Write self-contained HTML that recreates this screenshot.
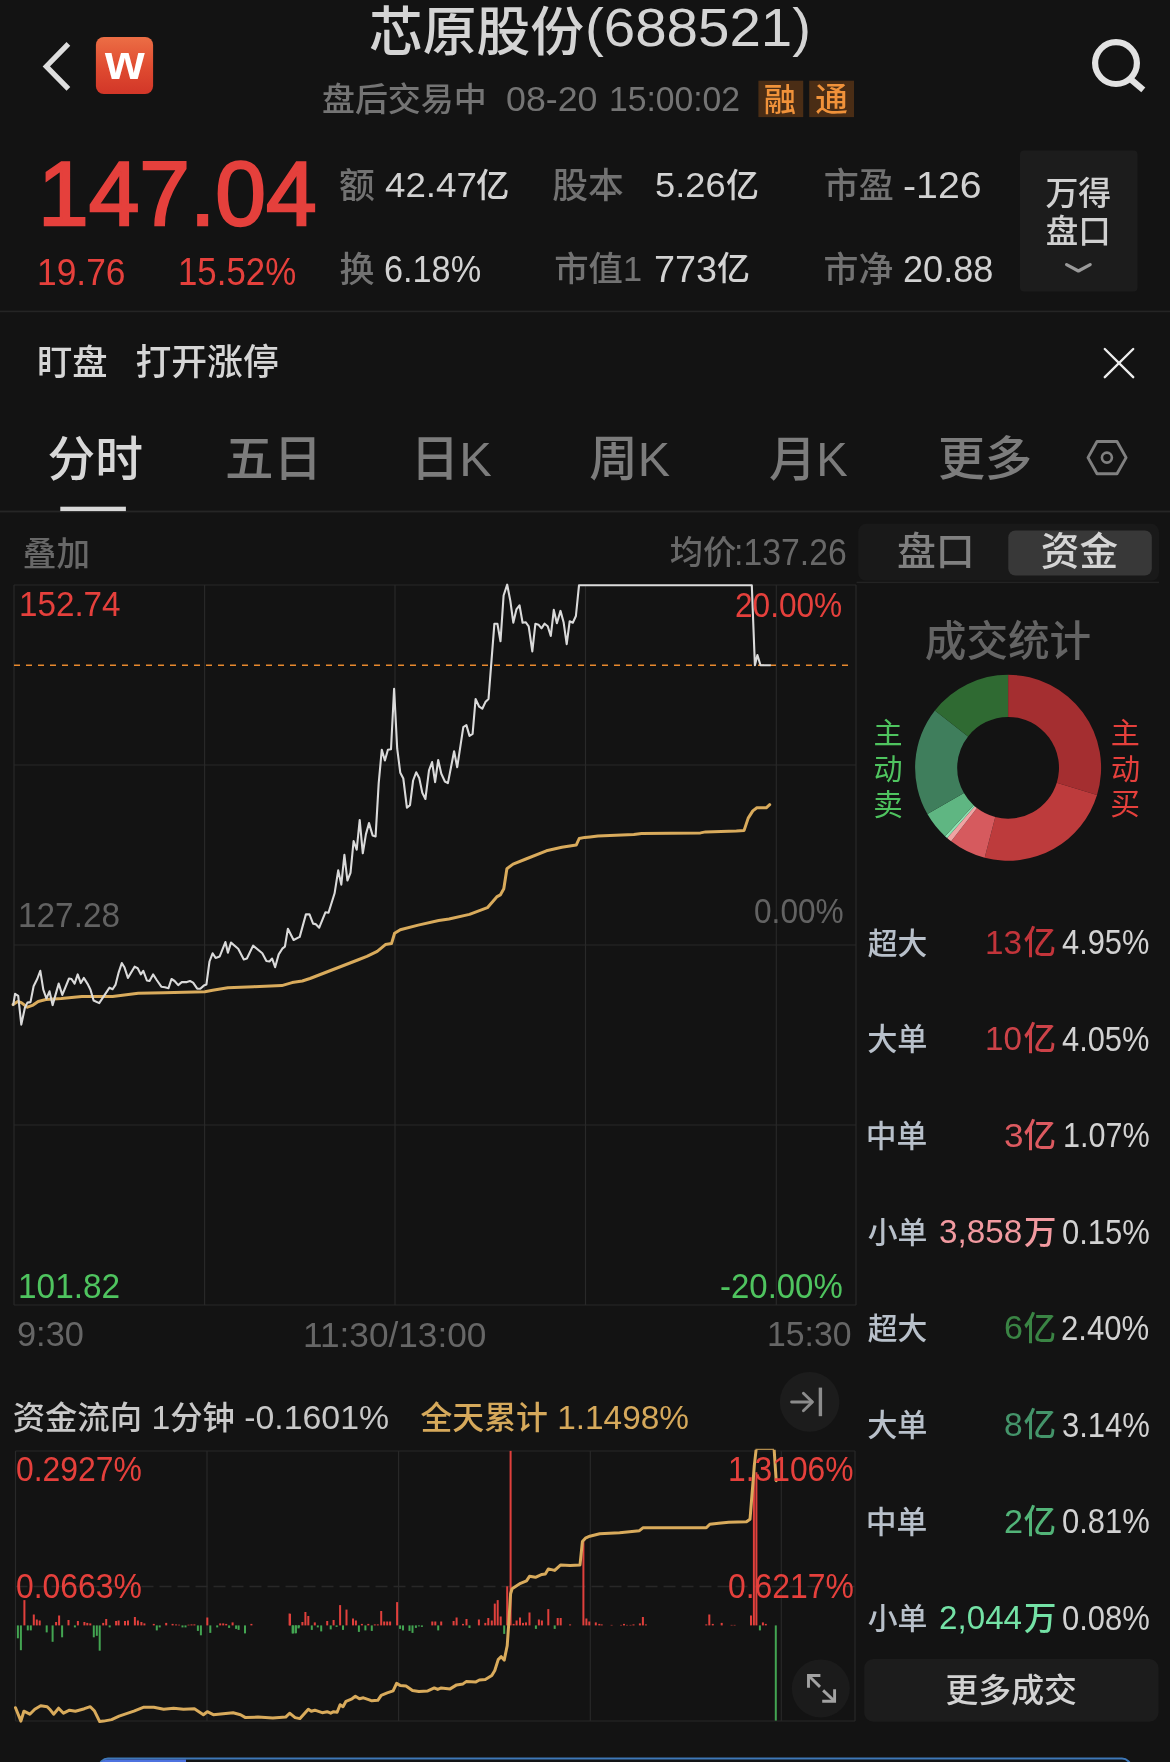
<!DOCTYPE html>
<html lang="zh-CN">
<head>
<meta charset="utf-8">
<meta name="viewport" content="width=1170">
<title>芯原股份(688521)</title>
<style>
html,body{margin:0;padding:0;background:#131313;}
body{width:1170px;height:1762px;overflow:hidden;position:relative;font-family:"Liberation Sans","Noto Sans CJK SC",sans-serif;color:#d2d2d2;}
#app{position:absolute;left:0;top:0;width:1170px;height:1762px;overflow:hidden;background:#131313;will-change:transform;}
.t{position:absolute;white-space:nowrap;line-height:1;transform-origin:0 0;margin:0;padding:0;font-weight:500;}
.c{font-size:.955em;}
svg{position:absolute;left:0;top:0;overflow:visible;}
</style>
</head>
<body>
<div id="app">

<!-- header icons -->
<svg width="1170" height="1762" viewBox="0 0 1170 1762">
  <defs>
    <linearGradient id="wg" x1="0" y1="0" x2="0" y2="1"><stop offset="0" stop-color="#ec6e45"/><stop offset="0.55" stop-color="#df4a30"/><stop offset="1" stop-color="#d23628"/></linearGradient>
  </defs>
  <polyline points="68.4,43.9 46.3,66.4 68.4,88.9" fill="none" stroke="#dedede" stroke-width="5.2" stroke-linecap="butt" stroke-linejoin="miter"/>
  <rect x="95.9" y="36.9" width="57.2" height="57.2" rx="8" fill="url(#wg)"/>
  <circle cx="1116" cy="63.1" r="20.9" fill="none" stroke="#e2e2e2" stroke-width="6.2"/>
  <line x1="1131" y1="79.5" x2="1143.3" y2="89.8" stroke="#e2e2e2" stroke-width="6.2" stroke-linecap="butt"/>
  <!-- badges -->
  <rect x="758.4" y="80.7" width="44.8" height="36.4" fill="#4a2d15"/>
  <rect x="809.2" y="80.7" width="44.8" height="36.4" fill="#4a2d15"/>
  <!-- wande button -->
  <rect x="1020" y="150.4" width="117.5" height="141" rx="4" fill="#1c1c1c"/>
  <polyline points="1066.6,264.6 1078.4,271 1090.2,264.6" fill="none" stroke="#9a9a9a" stroke-width="3.2" stroke-linecap="round" stroke-linejoin="round"/>
  <!-- separators -->
  <rect x="0" y="310.6" width="1170" height="1.6" fill="#252525"/>
  <rect x="0" y="510.6" width="1170" height="1.8" fill="#262626"/>
  <!-- close X -->
  <line x1="1104.8" y1="349" x2="1133.2" y2="377.2" stroke="#ececec" stroke-width="2.4" stroke-linecap="round"/>
  <line x1="1133.2" y1="349" x2="1104.8" y2="377.2" stroke="#ececec" stroke-width="2.4" stroke-linecap="round"/>
  <!-- tab underline -->
  <rect x="60.3" y="506.7" width="65.6" height="4.4" fill="#d8d8d8"/>
  <!-- settings hex -->
  <polygon points="1088,457.6 1097,441.5 1117,441.5 1126.1,457.6 1117,473.7 1097,473.7" fill="none" stroke="#808080" stroke-width="2.9" stroke-linejoin="round"/>
  <circle cx="1106.9" cy="457.6" r="5" fill="none" stroke="#808080" stroke-width="2.6"/>
  <!-- segmented -->
  <rect x="858.2" y="523.8" width="300.8" height="57" rx="8" fill="#191919"/>
  <rect x="1008.3" y="530.5" width="143.5" height="45" rx="7" fill="#383838"/>
  <rect x="856.6" y="581.7" width="302.4" height="1.4" fill="#232323"/>
  <!-- donut -->
  <path d="M1008.10,674.80 A93,93 0 0 1 1097.02,795.03 L1056.77,782.70 A50.9,50.9 0 0 0 1008.10,716.90 Z" fill="#a42e30"/>
<path d="M1097.02,795.03 A93,93 0 0 1 984.67,857.80 L995.27,817.06 A50.9,50.9 0 0 0 1056.77,782.70 Z" fill="#bd3b3c"/>
<path d="M984.67,857.80 A93,93 0 0 1 951.19,841.35 L976.95,808.06 A50.9,50.9 0 0 0 995.27,817.06 Z" fill="#d65a5e"/>
<path d="M951.19,841.35 A93,93 0 0 1 947.12,838.02 L974.72,806.23 A50.9,50.9 0 0 0 976.95,808.06 Z" fill="#f0a4a4"/>
<path d="M947.12,838.02 A93,93 0 0 1 945.03,836.14 L973.58,805.21 A50.9,50.9 0 0 0 974.72,806.23 Z" fill="#8ee4b4"/>
<path d="M945.03,836.14 A93,93 0 0 1 927.38,814.00 L963.92,793.08 A50.9,50.9 0 0 0 973.58,805.21 Z" fill="#5fb682"/>
<path d="M927.38,814.00 A93,93 0 0 1 934.92,710.41 L968.05,736.39 A50.9,50.9 0 0 0 963.92,793.08 Z" fill="#3f7e5c"/>
<path d="M934.92,710.41 A93,93 0 0 1 1008.10,674.80 L1008.10,716.90 A50.9,50.9 0 0 0 968.05,736.39 Z" fill="#2f6a32"/>
  <!-- more button -->
  <rect x="864.2" y="1659.1" width="294.3" height="62.6" rx="9" fill="#1c1c1c"/>
  <!-- charts -->
  <line x1="14" y1="585" x2="14" y2="1305" stroke="#292929" stroke-width="1.15"/>
<line x1="204.6" y1="585" x2="204.6" y2="1305" stroke="#292929" stroke-width="1.15"/>
<line x1="395" y1="585" x2="395" y2="1305" stroke="#292929" stroke-width="1.15"/>
<line x1="585.5" y1="585" x2="585.5" y2="1305" stroke="#292929" stroke-width="1.15"/>
<line x1="776.3" y1="585" x2="776.3" y2="1305" stroke="#292929" stroke-width="1.15"/>
<line x1="856" y1="585" x2="856" y2="1305" stroke="#292929" stroke-width="1.15"/>
<line x1="14" y1="585" x2="856" y2="585" stroke="#292929" stroke-width="1.15"/>
<line x1="14" y1="765" x2="856" y2="765" stroke="#292929" stroke-width="1.15"/>
<line x1="14" y1="945" x2="856" y2="945" stroke="#292929" stroke-width="1.15"/>
<line x1="14" y1="1125" x2="856" y2="1125" stroke="#292929" stroke-width="1.15"/>
<line x1="14" y1="1305" x2="856" y2="1305" stroke="#292929" stroke-width="1.15"/>
<line x1="14" y1="665.3" x2="850" y2="665.3" stroke="#e8892e" stroke-width="1.6" stroke-dasharray="6,6"/>
<polyline points="13.1,1004.6 17.7,1001.5 21.3,1002.6 27.4,1007.2 33.1,1005.1 38.2,1001.5 45.9,999.5 61.3,998.5 81.8,996.4 97.2,996.4 112.6,996.4 138.2,993.3 163.8,992.8 204.9,991.8 212.6,990.3 227.9,987.7 253.6,986.7 281.8,985.6 292.1,982.6 302.3,981 310,978.5 357.7,960 366.9,956.4 377.2,951.3 385.4,944.6 391.5,943.6 394.6,933.3 400.3,929.7 418.2,925.1 438.7,920.5 449,919 469.5,914.4 487.4,907.7 496.7,896.9 500.3,894.9 503.8,888.7 506.9,868.7 513.1,864.1 525.9,859 546.4,850.8 561.8,847.2 576.2,845.1 579.2,838.5 584.9,837.4 590,836.9 597.9,836 633.8,834.5 641.5,833.5 700.5,832.9 705.6,831.9 736.4,830.9 744.1,830.4 748.2,818.1 752.8,810.9 756.9,807.8 766.2,807.8 769.7,804.7" fill="none" stroke="#d9ab5c" stroke-width="3" stroke-linejoin="round" stroke-linecap="round"/>
<polyline points="13.1,1005.6 15.1,993.8 18.2,995.9 21.3,1024.6 24.9,1007.7 27.4,1002.6 30.5,1002.1 33.6,986.2 37.2,979 40.3,970.8 43.3,989.7 46.4,998.5 49.5,991.3 52.6,1005.1 58.7,983.6 62.3,994.9 69,978.5 71.5,979 74.6,983.6 77.7,974.4 80.8,983.1 83.8,977.9 87.4,983.6 90.5,989.7 93.6,1000.5 99.2,1003.1 109.5,987.7 112.6,989.2 115.6,984.6 118.7,972.3 121.8,963.1 124.4,967.2 127.9,977.9 134.6,966.7 137.7,968.2 140.8,974.4 143.3,970.8 146.9,980.5 149.5,981 153.1,974.4 156.7,980 161.3,986.7 164.9,987.2 168.5,988.2 171.5,979 174.6,981 178.2,985.1 181.8,982.1 186.9,982.1 190,981 193.1,982.6 197.2,988.7 200.3,988.7 203.8,985.6 206.4,984.6 209.5,961.5 212.6,953.3 215.6,957.9 219.7,956.4 225.4,942.1 227.9,952.8 231,942.6 238.2,948.7 243.8,959.5 246.9,958.5 253.1,945.6 262.3,953.3 266.4,961 269.5,961.5 272.1,958.5 275.1,967.2 278.7,954.4 282.3,948.7 284.9,946.7 287.9,928.7 293.6,940 299.7,936.9 305.9,914.4 309.5,914.4 313.1,923.6 315.6,924.1 319.2,927.7 325.4,912.3 328.5,912.8 334.6,893.3 338.2,870.3 341.3,884.6 344.4,854.9 347.4,880.5 350.5,872.8 353.6,841 356.7,849.7 359.7,820 362.8,853.3 365.9,834.4 369,823.1 372.6,835.4 375.6,836.4 378.7,783.1 381.8,749.7 384.9,760.5 387.9,749.7 391,749.2 394.1,688.7 397.2,748.7 400.3,772.8 403.3,778.5 406.9,807.7 410,805.1 413.1,780.5 416.2,772.3 419.2,777.9 422.3,792.8 425.4,799 429,770.3 432.1,762.1 435.1,782.1 438.2,760 441.3,773.8 444.9,781.5 447.9,783.1 454.1,751.3 457.2,767.2 463.3,727.2 466.4,725.1 469.5,735.9 472.6,733.8 475.6,699 479.2,706.7 482.3,708.7 485.4,702.1 488.5,699 491.3,663.2 494.4,623.7 497.4,623.7 500.5,641.2 503.6,595.5 507.2,584.7 510.3,600.6 513.3,622.7 516.4,609.4 519.5,605.3 522.6,622.7 525.6,622.2 528.7,626.3 532.3,651.4 535.4,623.7 538.5,624.7 541.5,628.3 544.6,623.7 547.7,626.3 550.8,636 553.8,609.9 556.9,623.2 560.5,610.9 563.6,622.2 566.7,644.2 569.7,621.2 572.8,622.7 575.9,616 579,585.3 751.8,585.3 754.9,665.3 757.4,655 760.5,665.3 770.8,665.3" fill="none" stroke="#dadada" stroke-width="2.1" stroke-linejoin="round"/>
  <line x1="15.5" y1="1451" x2="15.5" y2="1721" stroke="#292929" stroke-width="1.15"/>
<line x1="207" y1="1451" x2="207" y2="1721" stroke="#292929" stroke-width="1.15"/>
<line x1="398.6" y1="1451" x2="398.6" y2="1721" stroke="#292929" stroke-width="1.15"/>
<line x1="590.3" y1="1451" x2="590.3" y2="1721" stroke="#292929" stroke-width="1.15"/>
<line x1="781.3" y1="1451" x2="781.3" y2="1721" stroke="#292929" stroke-width="1.15"/>
<line x1="855" y1="1451" x2="855" y2="1721" stroke="#292929" stroke-width="1.15"/>
<line x1="15.5" y1="1451" x2="855" y2="1451" stroke="#292929" stroke-width="1.15"/>
<line x1="15.5" y1="1721" x2="855" y2="1721" stroke="#292929" stroke-width="1.15"/>
<line x1="15.5" y1="1586.5" x2="855" y2="1586.5" stroke="#282828" stroke-width="1.3" stroke-dasharray="12,6"/>
<rect x="175.1" y="1624.4" width="2" height="1.0" fill="#e0403c"/>
<rect x="178.1" y="1624.7" width="2" height="0.7" fill="#e0403c"/>
<rect x="187.5" y="1624.7" width="2" height="0.7" fill="#e0403c"/>
<rect x="190.5" y="1624.4" width="2" height="1.0" fill="#e0403c"/>
<rect x="193.4" y="1624.4" width="2" height="1.0" fill="#e0403c"/>
<rect x="23.4" y="1600.1" width="2" height="25.3" fill="#e0403c"/>
<rect x="32.8" y="1614.5" width="2" height="10.9" fill="#e0403c"/>
<rect x="35.8" y="1619.5" width="2" height="5.9" fill="#e0403c"/>
<rect x="38.7" y="1620.5" width="2" height="4.9" fill="#e0403c"/>
<rect x="55.1" y="1622.0" width="2" height="3.4" fill="#e0403c"/>
<rect x="58.1" y="1615.5" width="2" height="9.9" fill="#e0403c"/>
<rect x="67.5" y="1620.0" width="2" height="5.4" fill="#e0403c"/>
<rect x="76.9" y="1621.0" width="2" height="4.4" fill="#e0403c"/>
<rect x="83.4" y="1622.0" width="2" height="3.4" fill="#e0403c"/>
<rect x="86.3" y="1622.9" width="2" height="2.5" fill="#e0403c"/>
<rect x="89.3" y="1623.4" width="2" height="2.0" fill="#e0403c"/>
<rect x="102.2" y="1622.9" width="2" height="2.5" fill="#e0403c"/>
<rect x="105.2" y="1619.0" width="2" height="6.4" fill="#e0403c"/>
<rect x="115.1" y="1621.0" width="2" height="4.4" fill="#e0403c"/>
<rect x="117.6" y="1620.5" width="2" height="4.9" fill="#e0403c"/>
<rect x="124.0" y="1621.0" width="2" height="4.4" fill="#e0403c"/>
<rect x="127.0" y="1620.5" width="2" height="4.9" fill="#e0403c"/>
<rect x="133.9" y="1617.0" width="2" height="8.4" fill="#e0403c"/>
<rect x="136.9" y="1620.5" width="2" height="4.9" fill="#e0403c"/>
<rect x="140.4" y="1622.0" width="2" height="3.4" fill="#e0403c"/>
<rect x="143.4" y="1623.4" width="2" height="2.0" fill="#e0403c"/>
<rect x="152.8" y="1623.9" width="2" height="1.5" fill="#e0403c"/>
<rect x="165.2" y="1622.9" width="2" height="2.5" fill="#e0403c"/>
<rect x="171.6" y="1623.9" width="2" height="1.5" fill="#e0403c"/>
<rect x="206.3" y="1617.5" width="2" height="7.9" fill="#e0403c"/>
<rect x="219.2" y="1623.4" width="2" height="2.0" fill="#e0403c"/>
<rect x="222.2" y="1623.4" width="2" height="2.0" fill="#e0403c"/>
<rect x="225.2" y="1623.9" width="2" height="1.5" fill="#e0403c"/>
<rect x="231.6" y="1622.4" width="2" height="3.0" fill="#e0403c"/>
<rect x="250.4" y="1623.9" width="2" height="1.5" fill="#e0403c"/>
<rect x="288.6" y="1613.5" width="2" height="11.9" fill="#e0403c"/>
<rect x="289.0" y="1614.0" width="2" height="11.4" fill="#e0403c"/>
<rect x="301.4" y="1622.0" width="2" height="3.4" fill="#e0403c"/>
<rect x="304.4" y="1612.0" width="2" height="13.4" fill="#e0403c"/>
<rect x="307.3" y="1616.0" width="2" height="9.4" fill="#e0403c"/>
<rect x="313.8" y="1622.4" width="2" height="3.0" fill="#e0403c"/>
<rect x="326.2" y="1621.0" width="2" height="4.4" fill="#e0403c"/>
<rect x="332.6" y="1620.0" width="2" height="5.4" fill="#e0403c"/>
<rect x="339.1" y="1605.1" width="2" height="20.3" fill="#e0403c"/>
<rect x="345.5" y="1609.6" width="2" height="15.8" fill="#e0403c"/>
<rect x="352.0" y="1618.5" width="2" height="6.9" fill="#e0403c"/>
<rect x="354.9" y="1620.5" width="2" height="4.9" fill="#e0403c"/>
<rect x="360.9" y="1623.9" width="2" height="1.5" fill="#e0403c"/>
<rect x="367.3" y="1623.9" width="2" height="1.5" fill="#e0403c"/>
<rect x="373.8" y="1624.4" width="2" height="1.0" fill="#e0403c"/>
<rect x="376.8" y="1624.4" width="2" height="1.0" fill="#e0403c"/>
<rect x="380.2" y="1611.0" width="2" height="14.4" fill="#e0403c"/>
<rect x="383.2" y="1621.5" width="2" height="3.9" fill="#e0403c"/>
<rect x="386.2" y="1621.5" width="2" height="3.9" fill="#e0403c"/>
<rect x="389.1" y="1621.5" width="2" height="3.9" fill="#e0403c"/>
<rect x="396.1" y="1602.1" width="2" height="23.3" fill="#e0403c"/>
<rect x="431.3" y="1621.5" width="2" height="3.9" fill="#e0403c"/>
<rect x="434.3" y="1621.5" width="2" height="3.9" fill="#e0403c"/>
<rect x="440.2" y="1621.5" width="2" height="3.9" fill="#e0403c"/>
<rect x="452.6" y="1621.0" width="2" height="4.4" fill="#e0403c"/>
<rect x="455.6" y="1617.5" width="2" height="7.9" fill="#e0403c"/>
<rect x="462.0" y="1623.9" width="2" height="1.5" fill="#e0403c"/>
<rect x="465.5" y="1619.0" width="2" height="6.4" fill="#e0403c"/>
<rect x="477.9" y="1619.5" width="2" height="5.9" fill="#e0403c"/>
<rect x="484.3" y="1622.9" width="2" height="2.5" fill="#e0403c"/>
<rect x="487.3" y="1618.0" width="2" height="7.4" fill="#e0403c"/>
<rect x="490.8" y="1620.5" width="2" height="4.9" fill="#e0403c"/>
<rect x="493.8" y="1603.6" width="2" height="21.8" fill="#e0403c"/>
<rect x="496.7" y="1600.1" width="2" height="25.3" fill="#e0403c"/>
<rect x="499.7" y="1616.5" width="2" height="8.9" fill="#e0403c"/>
<rect x="506.2" y="1586.3" width="2" height="39.1" fill="#e0403c"/>
<rect x="509.6" y="1450.9" width="2" height="174.5" fill="#e0403c"/>
<rect x="512.6" y="1623.9" width="2" height="1.5" fill="#e0403c"/>
<rect x="515.6" y="1620.5" width="2" height="4.9" fill="#e0403c"/>
<rect x="519.0" y="1617.5" width="2" height="7.9" fill="#e0403c"/>
<rect x="522.0" y="1622.9" width="2" height="2.5" fill="#e0403c"/>
<rect x="525.0" y="1622.4" width="2" height="3.0" fill="#e0403c"/>
<rect x="528.5" y="1612.5" width="2" height="12.9" fill="#e0403c"/>
<rect x="537.9" y="1619.5" width="2" height="5.9" fill="#e0403c"/>
<rect x="540.9" y="1620.5" width="2" height="4.9" fill="#e0403c"/>
<rect x="547.3" y="1609.1" width="2" height="16.3" fill="#e0403c"/>
<rect x="556.7" y="1618.0" width="2" height="7.4" fill="#e0403c"/>
<rect x="559.7" y="1618.0" width="2" height="7.4" fill="#e0403c"/>
<rect x="569.1" y="1624.4" width="2" height="1.0" fill="#e0403c"/>
<rect x="582.4" y="1541.6" width="2" height="83.8" fill="#e0403c"/>
<rect x="585.4" y="1618.5" width="2" height="6.9" fill="#e0403c"/>
<rect x="588.3" y="1621.5" width="2" height="3.9" fill="#e0403c"/>
<rect x="594.8" y="1622.4" width="2" height="3.0" fill="#e0403c"/>
<rect x="598.3" y="1623.9" width="2" height="1.5" fill="#e0403c"/>
<rect x="600.7" y="1624.4" width="2" height="1.0" fill="#e0403c"/>
<rect x="610.6" y="1624.9" width="2" height="0.5" fill="#e0403c"/>
<rect x="620.1" y="1624.9" width="2" height="0.5" fill="#e0403c"/>
<rect x="623.0" y="1623.9" width="2" height="1.5" fill="#e0403c"/>
<rect x="626.0" y="1624.9" width="2" height="0.5" fill="#e0403c"/>
<rect x="629.5" y="1624.9" width="2" height="0.5" fill="#e0403c"/>
<rect x="632.5" y="1624.4" width="2" height="1.0" fill="#e0403c"/>
<rect x="638.9" y="1623.4" width="2" height="2.0" fill="#e0403c"/>
<rect x="641.9" y="1617.0" width="2" height="8.4" fill="#e0403c"/>
<rect x="644.9" y="1624.4" width="2" height="1.0" fill="#e0403c"/>
<rect x="705.3" y="1624.4" width="2" height="1.0" fill="#e0403c"/>
<rect x="708.3" y="1614.5" width="2" height="10.9" fill="#e0403c"/>
<rect x="711.8" y="1623.9" width="2" height="1.5" fill="#e0403c"/>
<rect x="720.7" y="1622.9" width="2" height="2.5" fill="#e0403c"/>
<rect x="730.6" y="1624.9" width="2" height="0.5" fill="#e0403c"/>
<rect x="733.6" y="1624.9" width="2" height="0.5" fill="#e0403c"/>
<rect x="750.0" y="1615.5" width="2" height="9.9" fill="#e0403c"/>
<rect x="752.9" y="1464.8" width="2" height="160.6" fill="#e0403c"/>
<rect x="755.4" y="1472.2" width="2" height="153.2" fill="#e0403c"/>
<rect x="761.9" y="1622.4" width="2" height="3.0" fill="#e0403c"/>
<rect x="764.8" y="1623.9" width="2" height="1.5" fill="#e0403c"/>
<rect x="16.9" y="1625.4" width="2" height="12.9" fill="#43a552"/>
<rect x="19.9" y="1625.4" width="2" height="24.8" fill="#43a552"/>
<rect x="26.8" y="1625.4" width="2" height="5.0" fill="#43a552"/>
<rect x="29.8" y="1625.4" width="2" height="5.0" fill="#43a552"/>
<rect x="45.7" y="1625.4" width="2" height="7.0" fill="#43a552"/>
<rect x="51.6" y="1625.4" width="2" height="16.4" fill="#43a552"/>
<rect x="61.1" y="1625.4" width="2" height="11.9" fill="#43a552"/>
<rect x="73.9" y="1625.4" width="2" height="2.0" fill="#43a552"/>
<rect x="92.8" y="1625.4" width="2" height="11.9" fill="#43a552"/>
<rect x="95.8" y="1625.4" width="2" height="10.4" fill="#43a552"/>
<rect x="98.7" y="1625.4" width="2" height="25.3" fill="#43a552"/>
<rect x="108.7" y="1625.4" width="2" height="2.0" fill="#43a552"/>
<rect x="155.8" y="1625.4" width="2" height="5.0" fill="#43a552"/>
<rect x="158.7" y="1625.4" width="2" height="2.0" fill="#43a552"/>
<rect x="181.5" y="1625.4" width="2" height="2.0" fill="#43a552"/>
<rect x="184.5" y="1625.4" width="2" height="2.0" fill="#43a552"/>
<rect x="196.9" y="1625.4" width="2" height="5.5" fill="#43a552"/>
<rect x="199.9" y="1625.4" width="2" height="9.9" fill="#43a552"/>
<rect x="209.3" y="1625.4" width="2" height="7.5" fill="#43a552"/>
<rect x="216.2" y="1625.4" width="2" height="2.0" fill="#43a552"/>
<rect x="228.1" y="1625.4" width="2" height="2.5" fill="#43a552"/>
<rect x="235.1" y="1625.4" width="2" height="3.5" fill="#43a552"/>
<rect x="237.6" y="1625.4" width="2" height="4.5" fill="#43a552"/>
<rect x="244.0" y="1625.4" width="2" height="8.0" fill="#43a552"/>
<rect x="291.6" y="1625.4" width="2" height="8.0" fill="#43a552"/>
<rect x="294.6" y="1625.4" width="2" height="8.0" fill="#43a552"/>
<rect x="297.5" y="1625.4" width="2" height="3.0" fill="#43a552"/>
<rect x="292.0" y="1625.4" width="2" height="8.0" fill="#43a552"/>
<rect x="294.9" y="1625.4" width="2" height="7.5" fill="#43a552"/>
<rect x="297.9" y="1625.4" width="2" height="2.0" fill="#43a552"/>
<rect x="310.8" y="1625.4" width="2" height="4.5" fill="#43a552"/>
<rect x="316.8" y="1625.4" width="2" height="2.0" fill="#43a552"/>
<rect x="320.2" y="1625.4" width="2" height="6.0" fill="#43a552"/>
<rect x="329.7" y="1625.4" width="2" height="4.0" fill="#43a552"/>
<rect x="335.6" y="1625.4" width="2" height="1.5" fill="#43a552"/>
<rect x="342.0" y="1625.4" width="2" height="4.5" fill="#43a552"/>
<rect x="357.9" y="1625.4" width="2" height="6.5" fill="#43a552"/>
<rect x="364.4" y="1625.4" width="2" height="5.0" fill="#43a552"/>
<rect x="370.8" y="1625.4" width="2" height="5.5" fill="#43a552"/>
<rect x="399.1" y="1625.4" width="2" height="3.5" fill="#43a552"/>
<rect x="402.0" y="1625.4" width="2" height="5.0" fill="#43a552"/>
<rect x="408.5" y="1625.4" width="2" height="5.5" fill="#43a552"/>
<rect x="411.5" y="1625.4" width="2" height="7.5" fill="#43a552"/>
<rect x="414.9" y="1625.4" width="2" height="2.5" fill="#43a552"/>
<rect x="417.9" y="1625.4" width="2" height="1.0" fill="#43a552"/>
<rect x="420.9" y="1625.4" width="2" height="1.5" fill="#43a552"/>
<rect x="437.2" y="1625.4" width="2" height="5.0" fill="#43a552"/>
<rect x="468.5" y="1625.4" width="2" height="2.5" fill="#43a552"/>
<rect x="503.2" y="1625.4" width="2" height="8.5" fill="#43a552"/>
<rect x="534.9" y="1625.4" width="2" height="3.5" fill="#43a552"/>
<rect x="553.7" y="1625.4" width="2" height="3.5" fill="#43a552"/>
<rect x="758.9" y="1625.4" width="2" height="5.0" fill="#43a552"/>
<rect x="774.8" y="1625.4" width="2" height="95.2" fill="#43a552"/>
<clipPath id="fc"><rect x="0" y="1449.8" width="1170" height="300"/></clipPath>
<polyline clip-path="url(#fc)" points="15.5,1707.7 20.9,1721.1 23.9,1711.2 29.8,1714.2 34.8,1709.2 40.7,1705.7 47.2,1706.7 49.7,1709.2 53.6,1714.2 58.6,1708.2 63.5,1713.2 69.5,1710.2 75.4,1711.2 84.4,1708.7 90.3,1706.7 94.3,1710.7 99.7,1721.6 103.7,1721.1 111.6,1719.6 119.1,1716.2 126.5,1713.7 133.9,1711.2 143.9,1707.2 153.8,1707.2 163.7,1709.2 173.6,1708.2 183.5,1709.2 194.4,1708.7 203.4,1714.7 207.3,1711.7 213.3,1714.7 223.2,1713.7 233.1,1712.7 240.5,1714.7 245.5,1717.6 257.9,1717.1 272.8,1718.1 285.7,1717.1 289.6,1713.2 295.1,1717.6 300,1718.6 308.3,1709.2 311.3,1711.2 314.8,1710.2 322.2,1712.7 327.2,1711.7 330.7,1713.2 333.6,1711.7 337.1,1712.2 340.1,1704.7 343,1706.7 346,1701.3 352,1698.8 355.4,1696.3 359.4,1698.8 363.4,1697.8 369.3,1699.8 371.8,1700.8 377.8,1700.3 381.2,1695.3 387.2,1692.9 393.1,1690.9 396.6,1683.4 400.1,1685.4 406,1685.9 412.5,1690.4 418.9,1691.4 427.8,1690.9 434.3,1687.9 437.7,1689.4 441.2,1687.9 450.1,1688.9 456.6,1684.9 463,1683.9 466.5,1681.4 475.9,1681.9 479.4,1680 485.3,1679.5 491.8,1675.5 494.8,1670.5 498.2,1659.6 501.2,1656.7 504.2,1660.1 507.2,1645.8 508.6,1625.9 510.6,1593.7 512.1,1588.7 520.5,1583.3 526.5,1580.8 529.5,1576.3 535.4,1577.3 541.9,1574.4 545.3,1573.9 548.3,1568.9 554.7,1570.4 560.7,1564.9 570.1,1565.4 580,1564.9 582.4,1541.6 585.4,1538.2 589.8,1536.2 599.7,1533.7 619.6,1532.7 639.4,1530.7 642.9,1527.8 654.3,1527.8 706.3,1527.8 709.8,1524.3 718.7,1523.3 728.7,1522.3 746.5,1521.8 750,1519.3 752.4,1489.6 754.4,1464.8 756.2,1448.9 758.9,1447.4 774,1447.4 776.2,1480.7" fill="none" stroke="#d9ab5c" stroke-width="3" stroke-linejoin="round" stroke-linecap="round"/>
<polyline points="755.5,1449.3 774,1449.3" fill="none" stroke="#d9ab5c" stroke-width="1"/>
  <!-- round buttons -->
  <circle cx="809.6" cy="1401.9" r="29.8" fill="#1c1c1c"/>
  <g fill="none" stroke="#8c8c8c" stroke-linecap="round" stroke-linejoin="round">
    <line x1="791.6" y1="1402" x2="812" y2="1402" stroke-width="2.9"/>
    <polyline points="803.4,1393.3 812.4,1402 803.4,1410.7" stroke-width="2.9"/>
    <line x1="820.4" y1="1387.6" x2="820.4" y2="1416.2" stroke-width="3.4" stroke-linecap="butt"/>
  </g>
  <circle cx="820.8" cy="1688.4" r="29" fill="#1b1b1b"/>
  <g fill="none" stroke="#a2a2a2" stroke-width="2.9" stroke-linecap="butt" stroke-linejoin="miter">
    <polyline points="808.5,1687.7 808.5,1675.5 820.4,1675.5"/>
    <line x1="809" y1="1676" x2="820" y2="1686.9"/>
    <polyline points="834.6,1689.2 834.6,1701.3 822.2,1701.3"/>
    <line x1="834.1" y1="1700.8" x2="823.1" y2="1690.4"/>
  </g>
  <!-- bottom bar -->
  <rect x="99" y="1758.6" width="1032" height="20" rx="9" fill="#121416" stroke="#3e78b8" stroke-width="2"/>
  <path d="M100,1763 L100,1767 Q100,1759.4 108,1759.4 L186,1759.4 L186,1763 Z" fill="#4d72e0"/>
</svg>

<div class="t" id="title1" style="left:368.97px;top:5.61px;font-size:53.77px;color:#d4d4d4;font-weight:500;">芯原股份</div>
<div class="t" id="title2" style="left:585.16px;top:0.76px;font-size:53.03px;color:#d4d4d4;transform:scaleX(1.0652);">(688521)</div>
<div class="t" id="sub1" style="left:321.99px;top:84.39px;font-size:32.94px;color:#747474;">盘后交易中</div>
<div class="t" id="sub2" style="left:505.70px;top:81.76px;font-size:34.91px;color:#747474;transform:scaleX(1.0247);">08-20</div>
<div class="t" id="sub3" style="left:608.92px;top:81.76px;font-size:34.91px;color:#747474;transform:scaleX(0.9645);">15:00:02</div>
<div class="t" id="bd1" style="left:763.66px;top:84.17px;font-size:32.25px;color:#f0923a;">融</div>
<div class="t" id="bd2" style="left:815.33px;top:83.85px;font-size:32.52px;color:#f0923a;">通</div>
<div class="t" id="wlogo" style="left:104.59px;top:39.25px;font-size:47.88px;color:#ffffff;font-weight:700;transform:scaleX(1.0643);">w</div>
<div class="t" id="price" style="left:38.11px;top:148.97px;font-size:90.42px;color:#e5403c;-webkit-text-stroke:2.3px #e5403c;transform:scaleX(1.0079);">147.04</div>
<div class="t" id="chg" style="left:36.86px;top:253.74px;font-size:37.47px;color:#e5403c;transform:scaleX(0.9432);">19.76</div>
<div class="t" id="pct" style="left:177.57px;top:253.77px;font-size:37.88px;color:#e5403c;transform:scaleX(0.9198);">15.52%</div>
<div class="t" id="s1l" style="left:338.93px;top:168.51px;font-size:35.75px;color:#727272;">额</div>
<div class="t" id="s1v" style="left:384.82px;top:167.96px;font-size:35.72px;color:#d2d2d2;transform:scaleX(1.0279);">42.47</div>
<div class="t" id="s1u" style="left:476.11px;top:168.50px;font-size:33.41px;color:#d2d2d2;">亿</div>
<div class="t" id="s2l" style="left:552.18px;top:168.85px;font-size:35.76px;color:#727272;">股本</div>
<div class="t" id="s2v" style="left:654.98px;top:167.96px;font-size:35.72px;color:#d2d2d2;transform:scaleX(1.0157);">5.26</div>
<div class="t" id="s2u" style="left:726.02px;top:168.97px;font-size:33.01px;color:#d2d2d2;">亿</div>
<div class="t" id="s3l" style="left:823.70px;top:167.76px;font-size:35.12px;color:#727272;">市盈</div>
<div class="t" id="s3v" style="left:903.25px;top:168.20px;font-size:36.00px;color:#d2d2d2;transform:scaleX(1.0897);">-126</div>
<div class="t" id="s4l" style="left:339.40px;top:253.45px;font-size:34.97px;color:#727272;">换</div>
<div class="t" id="s4v" style="left:383.81px;top:251.50px;font-size:36.09px;color:#d2d2d2;transform:scaleX(0.9492);">6.18%</div>
<div class="t" id="s5l" style="left:554.23px;top:252.36px;font-size:34.38px;color:#727272;">市值1</div>
<div class="t" id="s5v" style="left:653.54px;top:251.63px;font-size:36.45px;color:#d2d2d2;transform:scaleX(1.0371);">773</div>
<div class="t" id="s5u" style="left:717.02px;top:251.90px;font-size:33.01px;color:#d2d2d2;">亿</div>
<div class="t" id="s6l" style="left:823.54px;top:253.37px;font-size:34.87px;color:#727272;">市净</div>
<div class="t" id="s6v" style="left:903.03px;top:252.22px;font-size:36.00px;color:#d2d2d2;transform:scaleX(1.0037);">20.88</div>
<div class="t" id="b1" style="left:1045.41px;top:178.18px;font-size:32.95px;color:#d0d0d0;">万得</div>
<div class="t" id="b2" style="left:1045.83px;top:215.77px;font-size:32.55px;color:#d0d0d0;">盘口</div>
<div class="t" id="w1" style="left:36.89px;top:345.07px;font-size:35.32px;color:#d6d6d6;">盯盘</div>
<div class="t" id="w2" style="left:135.44px;top:346.02px;font-size:35.85px;color:#d6d6d6;">打开涨停</div>
<div class="t" id="tb1" style="left:47.53px;top:435.89px;font-size:47.74px;color:#d8d8d8;font-weight:500;">分时</div>
<div class="t" id="tb2" style="left:224.96px;top:434.77px;font-size:48.54px;color:#7c7c7c;">五日</div>
<div class="t" id="tb3" style="left:410.45px;top:434.89px;font-size:48.73px;color:#7c7c7c;">日K</div>
<div class="t" id="tb4" style="left:589.21px;top:434.74px;font-size:48.44px;color:#7c7c7c;">周K</div>
<div class="t" id="tb5" style="left:769.03px;top:435.79px;font-size:47.20px;color:#7c7c7c;">月K</div>
<div class="t" id="tb6" style="left:938.00px;top:434.79px;font-size:47.06px;color:#7c7c7c;">更多</div>
<div class="t" id="ov" style="left:22.86px;top:537.93px;font-size:33.62px;color:#686868;">叠加</div>
<div class="t" id="avg" style="left:669.72px;top:535.66px;font-size:33.31px;color:#686868;">均价</div>
<div class="t" id="avg2" style="left:734.42px;top:535.02px;font-size:36.26px;color:#686868;transform:scaleX(0.9318);">:137.26</div>
<div class="t" id="sg1" style="left:896.90px;top:532.98px;font-size:38.94px;color:#808080;">盘口</div>
<div class="t" id="sg2" style="left:1040.87px;top:533.46px;font-size:38.65px;color:#d4d4d4;">资金</div>
<div class="t" id="stat" style="left:924.84px;top:621.30px;font-size:41.58px;color:#646464;">成交统计</div>
<div class="t" id="vs0" style="left:873.45px;top:720.38px;font-size:29.02px;color:#4fc45f;font-weight:400;">主</div>
<div class="t" id="vs1" style="left:873.56px;top:755.53px;font-size:29.04px;color:#4fc45f;font-weight:400;">动</div>
<div class="t" id="vs2" style="left:873.15px;top:790.03px;font-size:29.58px;color:#4fc45f;font-weight:400;">卖</div>
<div class="t" id="vb0" style="left:1110.73px;top:720.22px;font-size:29.05px;color:#e5403c;font-weight:400;">主</div>
<div class="t" id="vb1" style="left:1110.97px;top:755.66px;font-size:29.08px;color:#e5403c;font-weight:400;">动</div>
<div class="t" id="vb2" style="left:1110.35px;top:788.99px;font-size:29.76px;color:#e5403c;font-weight:400;">买</div>
<div class="t" id="c1" style="left:18.84px;top:586.87px;font-size:35.65px;color:#e5403c;transform:scaleX(0.9315);">152.74</div>
<div class="t" id="c2" style="left:17.86px;top:897.61px;font-size:35.65px;color:#626262;transform:scaleX(0.9359);">127.28</div>
<div class="t" id="c3" style="left:17.97px;top:1268.53px;font-size:35.65px;color:#4fc45f;transform:scaleX(0.9365);">101.82</div>
<div class="t" id="c4" style="left:734.82px;top:588.28px;font-size:35.47px;color:#e5403c;transform:scaleX(0.8909);">20.00%</div>
<div class="t" id="c5" style="left:753.82px;top:893.87px;font-size:35.65px;color:#626262;transform:scaleX(0.8880);">0.00%</div>
<div class="t" id="c6" style="left:719.55px;top:1269.35px;font-size:35.47px;color:#4fc45f;transform:scaleX(0.9291);">-20.00%</div>
<div class="t" id="x1" style="left:16.83px;top:1316.57px;font-size:34.60px;color:#666666;transform:scaleX(0.9934);">9:30</div>
<div class="t" id="x2" style="left:303.48px;top:1317.93px;font-size:34.56px;color:#666666;transform:scaleX(1.0193);">11:30/13:00</div>
<div class="t" id="x3" style="left:767.33px;top:1316.57px;font-size:34.60px;color:#666666;transform:scaleX(0.9769);">15:30</div>
<div class="t" id="f1" style="left:12.74px;top:1400.97px;font-size:33.85px;color:#c8c8c8;"><span class="c">资金流向</span> 1<span class="c">分钟</span> -0.1601%</div>
<div class="t" id="f2" style="left:420.46px;top:1400.50px;font-size:33.38px;color:#d6a95b;"><span class="c">全天累计</span> 1.1498%</div>
<div class="t" id="g1" style="left:15.79px;top:1452.33px;font-size:34.43px;color:#e5403c;transform:scaleX(0.9267);">0.2927%</div>
<div class="t" id="g2" style="left:15.79px;top:1569.33px;font-size:34.43px;color:#e5403c;transform:scaleX(0.9267);">0.0663%</div>
<div class="t" id="g3" style="left:727.74px;top:1452.33px;font-size:34.43px;color:#e5403c;transform:scaleX(0.9237);">1.3106%</div>
<div class="t" id="g4" style="left:727.87px;top:1569.33px;font-size:34.43px;color:#e5403c;transform:scaleX(0.9263);">0.6217%</div>
<div class="t" id="r0l" style="left:867.82px;top:928.83px;font-size:29.79px;color:#b8c0ca;">超大</div>
<div class="t" id="r0v" style="left:985.33px;top:925.60px;font-size:33.97px;color:#c2343a;transform:scaleX(0.9790);">13</div>
<div class="t" id="r0u" style="left:1023.48px;top:926.85px;font-size:32.61px;color:#c2343a;">亿</div>
<div class="t" id="r0p" style="left:1061.53px;top:925.32px;font-size:34.40px;color:#d2d2d2;transform:scaleX(0.8954);">4.95%</div>
<div class="t" id="r1l" style="left:867.15px;top:1025.12px;font-size:30.17px;color:#b8c0ca;">大单</div>
<div class="t" id="r1v" style="left:985.25px;top:1021.79px;font-size:33.97px;color:#cc4248;transform:scaleX(0.9751);">10</div>
<div class="t" id="r1u" style="left:1023.48px;top:1022.88px;font-size:32.61px;color:#cc4248;">亿</div>
<div class="t" id="r1p" style="left:1061.53px;top:1022.18px;font-size:34.40px;color:#d2d2d2;transform:scaleX(0.8954);">4.05%</div>
<div class="t" id="r2l" style="left:865.73px;top:1121.69px;font-size:30.82px;color:#b8c0ca;">中单</div>
<div class="t" id="r2v" style="left:1003.54px;top:1119.17px;font-size:33.97px;color:#dc5a60;transform:scaleX(1.0345);">3</div>
<div class="t" id="r2u" style="left:1023.48px;top:1120.05px;font-size:32.61px;color:#dc5a60;">亿</div>
<div class="t" id="r2p" style="left:1062.60px;top:1118.03px;font-size:34.40px;color:#d2d2d2;transform:scaleX(0.8886);">1.07%</div>
<div class="t" id="r3l" style="left:867.69px;top:1218.48px;font-size:29.89px;color:#b8c0ca;">小单</div>
<div class="t" id="r3v" style="left:939.05px;top:1216.27px;font-size:32.60px;color:#f29aa0;transform:scaleX(1.0210);">3,858</div>
<div class="t" id="r3u" style="left:1023.90px;top:1217.05px;font-size:32.45px;color:#f29aa0;">万</div>
<div class="t" id="r3p" style="left:1061.97px;top:1214.80px;font-size:34.40px;color:#d2d2d2;transform:scaleX(0.9002);">0.15%</div>
<div class="t" id="r4l" style="left:867.82px;top:1314.11px;font-size:29.79px;color:#b8c0ca;">超大</div>
<div class="t" id="r4v" style="left:1003.56px;top:1311.06px;font-size:33.97px;color:#3a8444;transform:scaleX(1.0021);">6</div>
<div class="t" id="r4u" style="left:1023.48px;top:1312.80px;font-size:32.61px;color:#3a8444;">亿</div>
<div class="t" id="r4p" style="left:1061.31px;top:1311.14px;font-size:34.40px;color:#d2d2d2;transform:scaleX(0.9040);">2.40%</div>
<div class="t" id="r5l" style="left:867.15px;top:1411.12px;font-size:30.17px;color:#b8c0ca;">大单</div>
<div class="t" id="r5v" style="left:1003.99px;top:1407.79px;font-size:33.97px;color:#44946a;transform:scaleX(0.9869);">8</div>
<div class="t" id="r5u" style="left:1023.48px;top:1408.88px;font-size:32.61px;color:#44946a;">亿</div>
<div class="t" id="r5p" style="left:1061.58px;top:1408.18px;font-size:34.40px;color:#d2d2d2;transform:scaleX(0.9014);">3.14%</div>
<div class="t" id="r6l" style="left:865.73px;top:1508.09px;font-size:30.82px;color:#b8c0ca;">中单</div>
<div class="t" id="r6v" style="left:1003.91px;top:1504.70px;font-size:33.97px;color:#52b478;transform:scaleX(1.0089);">2</div>
<div class="t" id="r6u" style="left:1023.48px;top:1505.55px;font-size:32.61px;color:#52b478;">亿</div>
<div class="t" id="r6p" style="left:1061.97px;top:1503.80px;font-size:34.40px;color:#d2d2d2;transform:scaleX(0.9002);">0.81%</div>
<div class="t" id="r7l" style="left:867.69px;top:1604.28px;font-size:29.89px;color:#b8c0ca;">小单</div>
<div class="t" id="r7v" style="left:939.13px;top:1601.99px;font-size:32.60px;color:#74e2a6;transform:scaleX(1.0185);">2,044</div>
<div class="t" id="r7u" style="left:1023.90px;top:1602.85px;font-size:32.45px;color:#74e2a6;">万</div>
<div class="t" id="r7p" style="left:1061.97px;top:1601.03px;font-size:34.40px;color:#d2d2d2;transform:scaleX(0.9002);">0.08%</div>
<div class="t" id="more" style="left:945.45px;top:1674.89px;font-size:32.88px;color:#d2d2d2;">更多成交</div>
</div>
</body>
</html>
